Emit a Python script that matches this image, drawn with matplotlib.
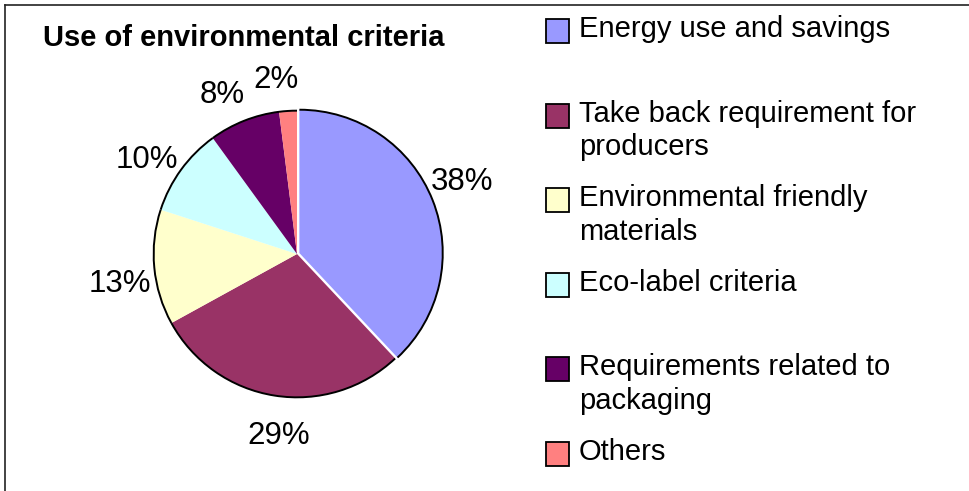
import matplotlib
matplotlib.use('Agg')
import matplotlib.pyplot as plt
import numpy as np
from matplotlib.patches import Arc, Rectangle
from matplotlib.lines import Line2D

plt.rcParams['font.family'] = ['Liberation Sans', 'DejaVu Sans']

# Daten
categories = ['Energy use and savings',
              'Take back requirement for\nproducers',
              'Environmental friendly\nmaterials',
              'Eco-label criteria',
              'Requirements related to\npackaging',
              'Others']
shares = [38, 29, 13, 10, 8, 2]
colors = ['#9999FF', '#993366', '#FFFFCC', '#CCFFFF', '#660066', '#FF8080']
title = 'Use of environmental criteria'

W, H = 970, 491
fig = plt.figure(figsize=(W / 100, H / 100), dpi=100)

# Rahmen (nur oben und links sichtbar)
fig.add_artist(Line2D([5 / W, 1], [1 - 4.5 / H, 1 - 4.5 / H], color='#222222', lw=1.2))
fig.add_artist(Line2D([5 / W, 5 / W], [0, 1 - 4.5 / H], color='#222222', lw=1.2))

# Kuchendiagramm: Mittelpunkt (298, 254) px, Radius ~143 px
cx, cy, half = 297, 254, 215
ax = fig.add_axes([(cx - half) / W, (H - cy - half) / H, 2 * half / W, 2 * half / H])
explode = [0.018, 0, 0, 0, 0, 0]
wedges, texts, autotexts = ax.pie(shares, colors=colors, startangle=90, counterclock=False,
                                  explode=explode, autopct='%.0f%%', pctdistance=1.25,
                                  wedgeprops={'linewidth': 0},
                                  textprops={'fontsize': 22.5, 'color': 'black'})
for w, t in zip(wedges, autotexts):
    ax.add_patch(Arc(w.center, 2 * w.r, 2 * w.r, theta1=w.theta1, theta2=w.theta2,
                     color='black', lw=1.4))
    # Beschriftung leicht gegen den Uhrzeigersinn versetzt (wie Excel)
    mid = np.deg2rad((w.theta1 + w.theta2) / 2 + 3)
    t.set_position((w.center[0] + 1.25 * np.cos(mid), w.center[1] + 1.25 * np.sin(mid)))
    t.set_va('center_baseline')
ax.set_xlim(-1.5, 1.5)
ax.set_ylim(-1.5, 1.5)
ax.axis('off')

fig.text(43 / W, 1 - 46 / H, title, fontsize=21, fontweight='bold', va='baseline', ha='left')

# Legende manuell
for i, (lab, col) in enumerate(zip(categories, colors)):
    base = 37 + i * 84.6
    fig.add_artist(Rectangle((546 / W, 1 - (base + 6) / H), 23 / W, 24 / H,
                             facecolor=col, edgecolor='black', lw=1.3,
                             transform=fig.transFigure))
    for j, line in enumerate(lab.split('\n')):
        fig.text(579 / W, 1 - (base + j * 33.3) / H, line, fontsize=21,
                 va='baseline', ha='left')

plt.savefig('out.png', dpi=100)
plt.close()
